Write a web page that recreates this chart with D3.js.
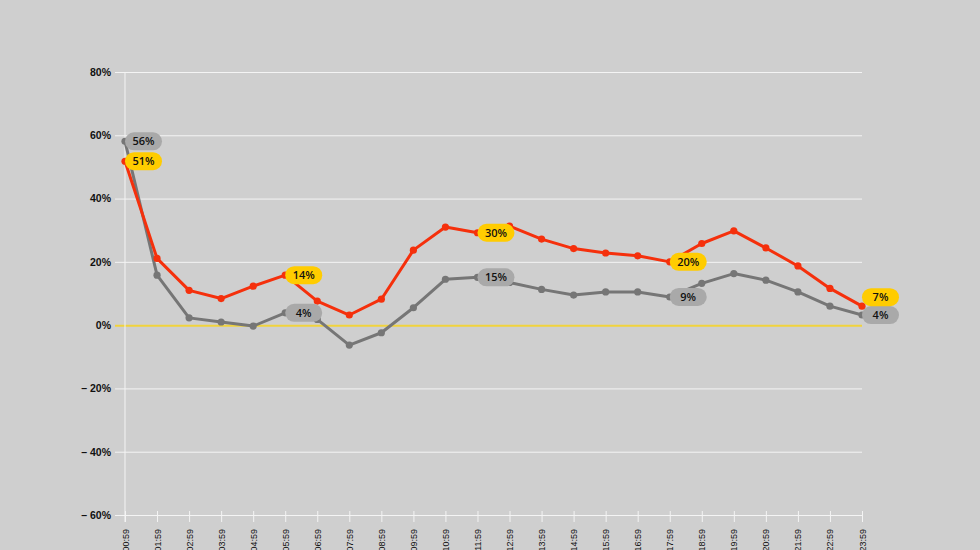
<!DOCTYPE html>
<html>
<head>
<meta charset="utf-8">
<script src="https://cdn.jsdelivr.net/npm/d3@7"></script>
<style>
  html, body { margin: 0; padding: 0; background: #cfcfcf; overflow: hidden; }
  svg { display: block; font-family: "Open Sans", "DejaVu Sans", sans-serif; }
</style>
</head>
<body>
<svg id="chart" width="980" height="550"></svg>
<script>
// hours of the day (tick labels)
var hours = ["00:59","01:59","02:59","03:59","04:59","05:59","06:59","07:59","08:59","09:59","10:59","11:59",
             "12:59","13:59","14:59","15:59","16:59","17:59","18:59","19:59","20:59","21:59","22:59","23:59"];

// red series, percent
var redValues = [51.8, 21.1, 11.0, 8.4, 12.3, 15.8, 7.6, 3.2, 8.2, 23.7, 31.0, 29.2,
                 31.3, 27.2, 24.2, 22.8, 21.9, 20.0, 25.8, 29.8, 24.4, 18.7, 11.6, 6.0];
// grey series, percent
var greyValues = [58.1, 15.8, 2.3, 1.0, -0.3, 3.9, 1.8, -6.3, -2.4, 5.5, 14.5, 15.1,
                  13.5, 11.3, 9.5, 10.5, 10.5, 8.9, 13.2, 16.3, 14.2, 10.5, 6.0, 3.2];

// callouts shown on the chart
var labelIndex = [0, 5, 11, 17, 23];
var redLabels  = ["51%", "14%", "30%", "20%", "7%"];
var greyLabels = ["56%", "4%", "15%", "9%", "4%"];

var yTicks = [-60, -40, -20, 0, 20, 40, 60, 80];

var svg = d3.select("#chart");
var x = d3.scalePoint().domain(hours).range([125, 862]);
var y = d3.scaleLinear().domain([-60, 80]).range([515, 72]);

function pct(v) {
  return v < 0 ? "\u2013 " + Math.abs(v) + "%" : v + "%";
}

// horizontal grid + y labels
var yAxis = svg.append("g")
  .attr("transform", "translate(125,0)")
  .call(d3.axisLeft(y).tickValues(yTicks).tickSize(-737).tickPadding(14).tickFormat(pct));
yAxis.select(".domain").remove();
yAxis.selectAll(".tick line")
  .attr("x1", -10)
  .attr("stroke", function(d) { return d === 0 ? "#f1d33c" : "#f4f4f4"; })
  .attr("stroke-width", function(d) { return d === 0 ? 2 : 1; });
yAxis.selectAll(".tick text")
  .attr("fill", "#111")
  .style("font-size", "10.5px")
  .style("font-weight", "bold")
  .attr("x", -14);

// vertical axis line
svg.append("line")
  .attr("x1", 125).attr("x2", 125)
  .attr("y1", y(80)).attr("y2", 522)
  .attr("stroke", "#f4f4f4").attr("stroke-width", 1);

// x ticks and rotated labels
var xAxis = svg.append("g")
  .attr("transform", "translate(0,515)")
  .call(d3.axisBottom(x).tickSize(7).tickPadding(0));
xAxis.select(".domain").remove();
xAxis.selectAll(".tick line").attr("y1", -4).attr("stroke", "#f4f4f4");
xAxis.selectAll(".tick text")
  .attr("fill", "#111")
  .style("font-size", "9px")
  .attr("text-anchor", "end")
  .attr("transform", "translate(3,14) rotate(-90)")
  .attr("y", 0).attr("dy", 0);

// lines
function drawSeries(values, color) {
  var line = d3.line()
    .x(function(d, i) { return x(hours[i]); })
    .y(function(d) { return y(d); });
  svg.append("path")
    .datum(values)
    .attr("fill", "none")
    .attr("stroke", color)
    .attr("stroke-width", 3)
    .attr("stroke-linejoin", "round")
    .attr("d", line);
  svg.append("g").selectAll("circle")
    .data(values)
    .enter().append("circle")
    .attr("cx", function(d, i) { return x(hours[i]); })
    .attr("cy", function(d) { return y(d); })
    .attr("r", 3.6)
    .attr("fill", color);
}
drawSeries(greyValues, "#767676");
drawSeries(redValues, "#f5300c");

// callout pills
function drawPills(values, texts, fill, shift) {
  var g = svg.append("g").selectAll("g")
    .data(labelIndex)
    .enter().append("g")
    .attr("transform", function(idx, k) {
      var dy = shift ? shift(k) : 0;
      return "translate(" + x(hours[idx]) + "," + (y(values[idx]) + dy) + ")";
    });
  g.append("rect")
    .attr("x", 0).attr("y", -9)
    .attr("width", 37).attr("height", 18)
    .attr("rx", 9).attr("ry", 9)
    .attr("fill", fill);
  g.append("text")
    .attr("x", 18.5).attr("y", 0).attr("dy", "0.35em")
    .attr("text-anchor", "middle")
    .style("font-size", "11px")
    .style("font-weight", "600")
    .attr("fill", "#111")
    .text(function(idx, k) { return texts[k]; });
}
drawPills(greyValues, greyLabels, "#a9a9a9");
drawPills(redValues, redLabels, "#ffcc00", function(k) { return k === 4 ? -9 : 0; });
</script>
</body>
</html>
